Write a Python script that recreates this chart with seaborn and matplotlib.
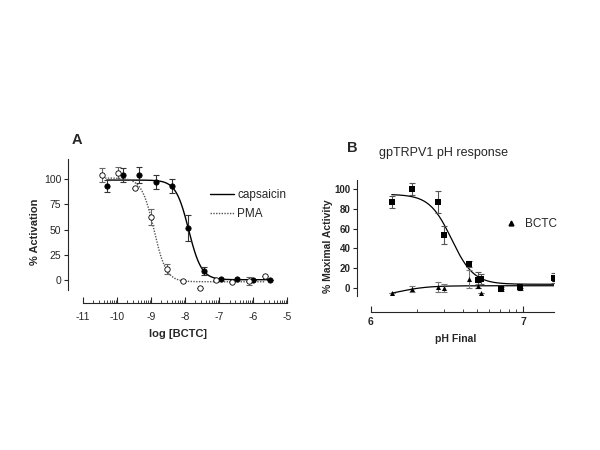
import numpy as np
import pandas as pd
import matplotlib
matplotlib.use("Agg")
import matplotlib.pyplot as plt
from matplotlib.lines import Line2D
import seaborn as sns

sns.set_style("ticks")
plt.rcParams['font.family'] = ['Liberation Sans', 'DejaVu Sans']
plt.rcParams['axes.unicode_minus'] = False

# Panel A: BCTC inhibition of capsaicin / PMA responses
cap_logx = [-10.31, -9.84, -9.36, -8.86, -8.39, -7.93, -7.45, -6.95, -6.49, -6.00, -5.52]
cap_y = [93.4, 103.6, 103.6, 97.3, 93.0, 51.5, 9.5, 1.0, 1.6, 0.3, 0.0]
cap_err = [6, 7, 8, 7, 7, 13, 4, 0, 0, 0, 0]

pma_logx = [-10.44, -9.97, -9.48, -9.01, -8.53, -8.06, -7.57, -7.10, -6.62, -6.13, -5.66]
pma_y = [104.0, 106.0, 91.0, 62.4, 11.5, -0.7, -7.3, 0.0, -2.0, -1.0, 4.6]
pma_err = [7, 6, 0, 8, 5, 0, 0, 0, 0, 4, 0]

# fitted sigmoid parameters: top, bottom, logIC50, slope
cap_fit = (99.0, 0.5, -7.90, 2.3)
pma_fit = (101.0, -1.5, -8.92, 2.4)

# Panel B: pH response
ph_x = [6.138, 6.269, 6.44, 6.481, 6.641, 6.70, 6.72, 6.857, 6.976, 7.203]
sq_y = [86.8, 100.3, 87.0, 53.5, 24.0, 7.8, 8.8, -1.6, 1.0, 9.5]
sq_err = [6, 6, 11, 9, 3, 8, 5, 2, 3, 5]
tri_y = [-5.7, -1.0, 1.0, -0.6, 8.5, 1.7, -5.0, -1.0, 0.0, 8.5]
tri_err = [0, 3, 5, 4, 9, 2, 0, 0, 0, 0]

sq_fit = (95.0, 3.5, 6.53, 6.0)
tri_fit = (2.0, -10.0, 6.187, -4.68)


def hill(x, p):
    top, bottom, mid, h = p
    return bottom + (top - bottom) / (1 + 10 ** ((x - mid) * h))


fig = plt.figure(figsize=(6, 4.5), dpi=100)

# ---------------- Panel A ----------------
ax = fig.add_axes([0.1138, 0.326, 0.365, 0.32])
xa = np.linspace(cap_logx[0], cap_logx[-1], 300)
xb = np.linspace(pma_logx[0], pma_logx[-1], 300)
curves_a = pd.DataFrame({"x": np.r_[xa, xb],
                         "y": np.r_[hill(xa, cap_fit), hill(xb, pma_fit)],
                         "agonist": ["capsaicin"] * 300 + ["PMA"] * 300})
sns.lineplot(data=curves_a, x="x", y="y", hue="agonist", style="agonist",
             palette={"capsaicin": "black", "PMA": "#555555"},
             dashes={"capsaicin": "", "PMA": (1, 1)}, linewidth=1.0,
             legend=False, ax=ax)
ax.errorbar(cap_logx, cap_y, yerr=cap_err, fmt="none", ecolor="#333333",
            elinewidth=0.8, capsize=2.5, capthick=0.8)
ax.errorbar(pma_logx, pma_y, yerr=pma_err, fmt="none", ecolor="#666666",
            elinewidth=0.8, capsize=2.5, capthick=0.8)
sns.scatterplot(x=cap_logx, y=cap_y, color="black", s=15, marker="o",
                edgecolor="black", linewidth=0.5, ax=ax, zorder=5)
sns.scatterplot(x=pma_logx, y=pma_y, color="white", s=15, marker="o",
                edgecolor="black", linewidth=0.6, ax=ax, zorder=5)

ax.set_xlim(-11.44, -5.0)
ax.set_ylim(-22.8, 119.5)
ax.spines['bottom'].set_bounds(-11, -5)
ax.spines['left'].set_bounds(-10, 119.5)
for s in ['top', 'right']:
    ax.spines[s].set_visible(False)
ax.set_xticks(range(-11, -4))
ax.set_xticks([d + np.log10(k) for d in range(-11, -5) for k in range(2, 10)], minor=True)
ax.set_xlim(-11.44, -5.0)
ax.set_yticks([0, 25, 50, 75, 100])
ax.tick_params(axis='x', which='major', direction='in', length=4, width=0.8, labelsize=7.5, pad=6)
ax.tick_params(axis='x', which='minor', direction='in', length=2, width=0.6)
ax.tick_params(axis='y', direction='out', length=3, width=0.8, labelsize=7.5, pad=2)
ax.set_xlabel("log [BCTC]", fontsize=8, fontweight='bold', labelpad=5)
ax.set_ylabel("% Activation", fontsize=8, fontweight='bold', labelpad=3)
handles = [Line2D([], [], color='black', lw=1.0),
           Line2D([], [], color='#555555', lw=1.0, ls=(0, (1, 1)))]
ax.legend(handles, ["capsaicin", "PMA"], loc="upper left", bbox_to_anchor=(0.6, 0.87),
          frameon=False, fontsize=8.5, handlelength=2.0, handletextpad=0.3, labelspacing=0.6)
fig.text(0.128, 0.689, "A", fontsize=10.5, fontweight='bold', ha='center', va='center')

# ---------------- Panel B ----------------
bx = fig.add_axes([0.5955, 0.3073, 0.3283, 0.2927])
xs = np.linspace(ph_x[0], ph_x[-1], 300)
curves_b = pd.DataFrame({"x": np.r_[xs, xs],
                         "y": np.r_[hill(xs, sq_fit), hill(xs, tri_fit)],
                         "series": ["ctrl"] * 300 + ["BCTC"] * 300})
sns.lineplot(data=curves_b, x="x", y="y", units="series", estimator=None,
             color="black", linewidth=0.9, ax=bx)
bx.errorbar(ph_x, sq_y, yerr=sq_err, fmt="none", ecolor="#555555",
            elinewidth=0.8, capsize=2.5, capthick=0.8)
bx.errorbar(ph_x, tri_y, yerr=tri_err, fmt="none", ecolor="#777777",
            elinewidth=0.8, capsize=2.5, capthick=0.8)
sns.scatterplot(x=ph_x, y=sq_y, color="black", marker="s", s=17, linewidth=0, ax=bx, zorder=5)
sns.scatterplot(x=ph_x, y=tri_y, color="black", marker="^", s=13, linewidth=0, ax=bx, zorder=5)

bx.spines['bottom'].set_bounds(6, 7.203)
bx.spines['left'].set_bounds(-8, 109.5)
for s in ['top', 'right']:
    bx.spines[s].set_visible(False)
bx.set_xticks([6, 7])
bx.set_xticks([6 + np.log10(k) for k in range(2, 10)], minor=True)
bx.set_xlim(5.912, 7.203)
bx.set_ylim(-24.4, 109.5)
bx.set_yticks([0, 20, 40, 60, 80, 100])
bx.tick_params(axis='x', which='major', direction='in', length=4, width=0.8, labelsize=7.5, pad=4)
bx.tick_params(axis='x', which='minor', direction='in', length=2, width=0.6)
bx.tick_params(axis='y', direction='out', length=3, width=0.8, labelsize=7, pad=2)
for lab in bx.get_xticklabels() + bx.get_yticklabels():
    lab.set_fontweight('bold')
bx.set_xlabel("pH Final", fontsize=7.5, fontweight='bold', labelpad=5)
bx.set_ylabel("% Maximal Activity", fontsize=7.5, fontweight='bold', labelpad=1)
bx.legend([Line2D([], [], color='black', marker='^', ls='none', markersize=3.5)], ["BCTC"],
          loc="center left", bbox_to_anchor=(0.69, 0.664), frameon=False, fontsize=8.5,
          handlelength=1.2, handletextpad=0.6)
fig.text(0.5875, 0.67, "B", fontsize=10.5, fontweight='bold', ha='center', va='center')
fig.text(0.632, 0.66, "gpTRPV1 pH response", fontsize=9, ha='left', va='center')

fig.savefig("out.png", dpi=100)
